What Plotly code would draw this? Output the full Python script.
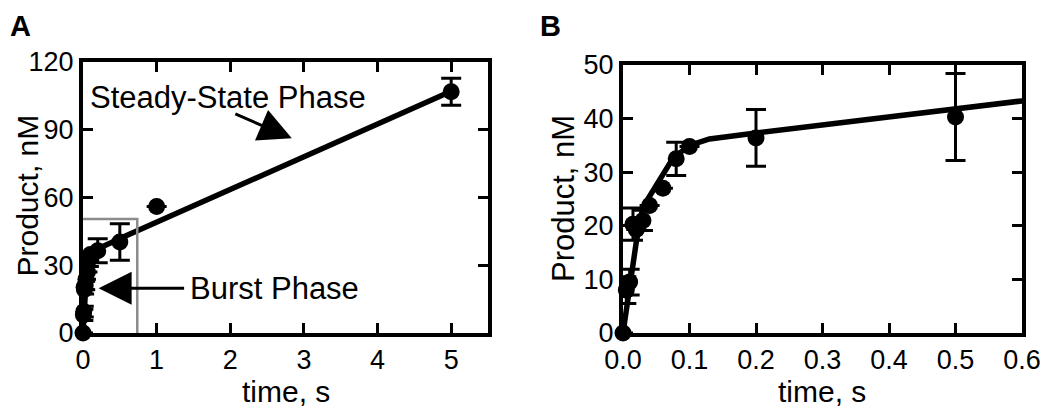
import plotly.graph_objects as go

# ---- data ----
time_s = [0, 0.005, 0.01, 0.015, 0.02, 0.03, 0.04, 0.06, 0.08, 0.1, 0.2, 0.5, 1, 5]
product_nM = [0, 8.0, 9.5, 20.3, 19.3, 21.0, 23.8, 27.0, 32.5, 34.8, 36.4, 40.3, 56.0, 106.8]
product_err = [0, 2.5, 2.4, 3.0, 0, 1.9, 0, 0, 3.1, 0, 5.3, 8.1, 0, 6.0]

fit_time = [0, 0.01, 0.02, 0.03, 0.04, 0.05, 0.06, 0.075, 0.1, 0.13, 0.2, 0.6, 5]
fit_nM = [0, 8.5, 17.0, 23.5, 25.6, 27.6, 29.6, 32.6, 35.0, 36.2, 37.3, 43.3, 107.0]

xticks_A = [0, 1, 2, 3, 4, 5]
yticks_A = [0, 30, 60, 90, 120]
xticks_B = [0.0, 0.1, 0.2, 0.3, 0.4, 0.5, 0.6]
xticklabels_B = ["0.0", "0.1", "0.2", "0.3", "0.4", "0.5", "0.6"]
yticks_B = [0, 10, 20, 30, 40, 50]

FONT = "Liberation Sans, Arial, sans-serif"
OFF = 8            # page body margin of the html page
W, H = 1050 - OFF, 408 - OFF

fig = go.Figure()

for xa, ya in (("x", "y"), ("x2", "y2")):
    fig.add_trace(go.Scatter(
        x=fit_time, y=fit_nM, mode="lines", xaxis=xa, yaxis=ya,
        line=dict(color="black", width=5.5), showlegend=False, cliponaxis=True))
    fig.add_trace(go.Scatter(
        x=time_s, y=product_nM, mode="markers", xaxis=xa, yaxis=ya,
        marker=dict(color="black", size=17),
        error_y=dict(type="data", array=product_err, visible=True,
                     color="black", thickness=3, width=10),
        showlegend=False, cliponaxis=False))

def px_x(p):
    return (p - OFF) / W

def px_y(p):
    return (408 - p) / H

axis_common = dict(
    showline=True, linecolor="black", linewidth=4, mirror="ticks",
    ticks="inside", ticklen=10, tickwidth=3, tickcolor="black",
    showgrid=False, zeroline=False, automargin=False,
    tickfont=dict(family=FONT, size=27, color="black"),
)

fig.update_layout(
    template="none",
    width=W, height=H,
    margin=dict(l=0, r=0, t=0, b=0, pad=0),
    paper_bgcolor="white", plot_bgcolor="white",
    font=dict(family=FONT, color="black"),
    xaxis=dict(domain=[px_x(83), px_x(488)], range=[0, 5.5],
               tickvals=xticks_A, anchor="y", **axis_common),
    yaxis=dict(domain=[px_y(333), px_y(62)], range=[0, 120],
               tickvals=yticks_A, anchor="x", **axis_common),
    xaxis2=dict(domain=[px_x(623), px_x(1022)], range=[0, 0.6],
                tickvals=xticks_B, ticktext=xticklabels_B, anchor="y2", **axis_common),
    yaxis2=dict(domain=[px_y(333), px_y(65)], range=[0, 50],
                tickvals=yticks_B, anchor="x2", **axis_common),
)

fig.add_shape(type="rect", xref="x", yref="y", x0=-0.294, x1=0.737, y0=-7.1, y1=50.5,
              line=dict(color="#8c8c8c", width=2.5), layer="above")

ann = []
ann.append(dict(text="<b>A</b>", xref="paper", yref="paper", x=0, y=1,
                xanchor="left", yanchor="top", showarrow=False,
                font=dict(family=FONT, size=29, color="black")))
ann.append(dict(text="<b>B</b>", xref="paper", yref="paper", x=px_x(538), y=1,
                xanchor="left", yanchor="top", showarrow=False,
                font=dict(family=FONT, size=29, color="black")))
ann.append(dict(text="Product, nM", xref="paper", yref="paper", x=0, y=px_y(196),
                xanchor="left", yanchor="middle", textangle=-90, showarrow=False,
                font=dict(family=FONT, size=30, color="black")))
ann.append(dict(text="Product, nM", xref="paper", yref="paper", x=px_x(563), y=px_y(199),
                xanchor="center", yanchor="middle", textangle=-90, showarrow=False,
                font=dict(family=FONT, size=31, color="black")))
for xc in (px_x(286), px_x(822)):
    ann.append(dict(text="time, s", xref="paper", yref="paper", x=xc, y=px_y(391),
                    xanchor="center", yanchor="middle", showarrow=False,
                    font=dict(family=FONT, size=30, color="black")))
ann.append(dict(text="Steady-State Phase", xref="x", yref="y", x=0.07, y=104.5,
                xanchor="left", yanchor="middle", showarrow=False,
                font=dict(family=FONT, size=31, color="black")))
ann.append(dict(text="Burst Phase", xref="x", yref="y", x=1.43, y=19.8,
                xanchor="left", yanchor="middle", showarrow=False,
                font=dict(family=FONT, size=31, color="black")))
ann.append(dict(text="", xref="x", yref="y", x=2.836, y=86.2, ax=-58, ay=-25,
                showarrow=True, arrowhead=2, arrowsize=2.2, arrowwidth=3,
                arrowcolor="black"))
ann.append(dict(text="", xref="x", yref="y", x=0.212, y=19.8, ax=87, ay=0,
                showarrow=True, arrowhead=2, arrowsize=2.2, arrowwidth=3,
                arrowcolor="black"))
fig.update_layout(annotations=ann)

fig.write_html("out.html")
